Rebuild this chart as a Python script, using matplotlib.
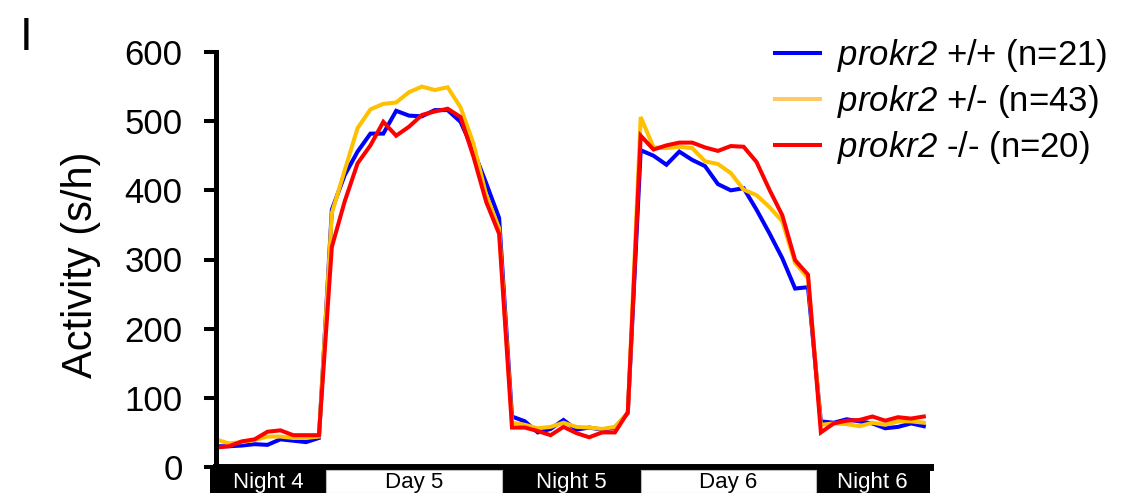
import numpy as np
import matplotlib
matplotlib.use("Agg")
import matplotlib.pyplot as plt
from matplotlib.patches import Rectangle

plt.rcParams['font.family'] = ['Liberation Sans', 'DejaVu Sans']
plt.rcParams['mathtext.fontset'] = 'custom'
plt.rcParams['mathtext.rm'] = 'Liberation Sans:italic'
plt.rcParams['mathtext.it'] = 'Liberation Sans:italic'

# hourly mean activity, night 4 -> night 6 (one point per hour)
hours = np.arange(56)

wt = [30, 30, 31, 33, 32, 40, 38, 36, 42,
      372, 422, 456, 482, 482, 515, 508, 507, 516, 516, 499, 458, 410, 360,
      73, 66, 50, 55, 68, 54, 57, 54, 57, 78,
      458, 450, 437, 456, 444, 435, 409, 400, 403, 372, 338, 302, 258, 260,
      66, 64, 69, 66, 63, 56, 58, 63, 59]

het = [40, 34, 36, 39, 44, 44, 42, 42, 44,
       367, 429, 490, 517, 525, 527, 542, 550, 545, 549, 520, 468, 393, 345,
       64, 61, 56, 58, 64, 58, 57, 55, 58, 78,
       506, 462, 461, 463, 461, 442, 438, 425, 401, 393, 376, 355, 295, 273,
       61, 63, 62, 59, 64, 61, 66, 66, 64]

mut = [28, 30, 37, 40, 51, 53, 46, 46, 46,
       318, 384, 439, 465, 499, 479, 492, 509, 514, 518, 506, 449, 383, 337,
       57, 57, 52, 46, 58, 49, 43, 50, 50, 79,
       479, 459, 465, 469, 469, 462, 457, 464, 463, 441, 401, 364, 299, 278,
       50, 63, 67, 68, 73, 67, 72, 70, 73]

labels = [r"$\mathit{prokr2}$ +/+ (n=21)",
          r"$\mathit{prokr2}$ +/- (n=43)",
          r"$\mathit{prokr2}$ -/- (n=20)"]
colors = ['#0000FF', '#FFC000', '#FF0000']

# light/dark phases
phase_names = ['Night 4', 'Day 5', 'Night 5', 'Day 6', 'Night 6']
phase_edges = [-0.47, 8.58, 22.22, 33.02, 46.59, 55.48]

W, H = 1130, 493
fig = plt.figure(figsize=(W / 100, H / 100), dpi=100)
ax = fig.add_axes([216 / W, (H - 467) / H, (930 - 216) / W, 415 / H])

for y, c in zip([wt, het, mut], colors):
    ax.plot(hours, y, color=c, lw=2.9, solid_joinstyle='miter')

ax.set_xlim(0, 55.48)
ax.set_ylim(0, 600)
ax.set_yticks(range(0, 601, 100))
ax.set_xticks([])
for s in ['top', 'right']:
    ax.spines[s].set_visible(False)
ax.spines['left'].set_linewidth(3.6)
ax.spines['bottom'].set_linewidth(5)
ax.tick_params(axis='y', length=9, width=2.9, pad=15, labelsize=25)
ax.set_ylabel('Activity (s/h)', fontsize=30, va='center')
ax.yaxis.set_label_coords(-0.189, 0.487)

# legend
handles = [plt.Line2D([], [], color=c, lw=2.9) for c in colors]
handles[1].set_color('#FFC966')
fig.legend(handles, labels, loc='upper left', bbox_to_anchor=(775 / W, 1 - 37 / H),
           frameon=False, fontsize=25, borderpad=0, borderaxespad=0,
           handlelength=1.3, handletextpad=0.49, labelspacing=0.26)

# day/night bar under the x axis
bar = fig.add_axes([216 / W, 0, (930 - 216) / W, (H - 467) / H], sharex=ax)
bar.set_ylim(0, 1)
bar.axis('off')
bar.add_patch(Rectangle((phase_edges[0], 0), phase_edges[-1] - phase_edges[0], 1,
                        facecolor='black', edgecolor='none', clip_on=False))
for i, name in enumerate(phase_names):
    x0, x1 = phase_edges[i], phase_edges[i + 1]
    day = name.startswith('Day')
    if day:
        bar.add_patch(Rectangle((x0, 0), x1 - x0, 0.885, facecolor='white',
                                edgecolor='#bbbbbb', lw=0.8, clip_on=False))
    bar.text((x0 + x1) / 2, 0.2, name, ha='center', va='baseline', fontsize=16,
             color='black' if day else 'white')

fig.text(20 / W, 1 - 16 / H, 'I', fontsize=33, va='top', ha='left')

fig.savefig('out.png', dpi=100)
